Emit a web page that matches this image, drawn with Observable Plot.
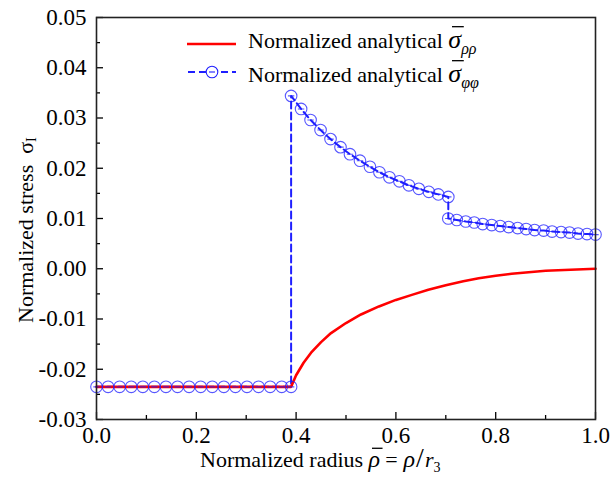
<!DOCTYPE html>
<html>
<head>
<meta charset="utf-8">
<script src="https://cdn.jsdelivr.net/npm/d3@7"></script>
<script src="https://cdn.jsdelivr.net/npm/@observablehq/plot@0.6"></script>
<style>
  html, body { margin: 0; padding: 0; background: #fff; }
  #chart { width: 610px; height: 485px; }
</style>
</head>
<body>
<div id="chart"></div>
<script>
// ---- data ----
const xTicks = [0.0, 0.2, 0.4, 0.6, 0.8, 1.0];
const xMinorTicks = [0.1, 0.3, 0.5, 0.7, 0.9];
const yTicks = [-0.03, -0.02, -0.01, 0.00, 0.01, 0.02, 0.03, 0.04, 0.05];
const yMinorTicks = [-0.025, -0.015, -0.005, 0.005, 0.015, 0.025, 0.035, 0.045];

// sigma_rho_rho (red solid)
const rhoX = [0.0, 0.39, 0.40, 0.415, 0.43, 0.45, 0.47, 0.50, 0.53, 0.566, 0.60, 0.632, 0.665, 0.70, 0.735, 0.766, 0.80, 0.832, 0.866, 0.90, 0.95, 1.0];
const rhoY = [-0.0235, -0.0235, -0.0212, -0.0187, -0.0167, -0.0146, -0.0128, -0.0108, -0.0091, -0.0075, -0.0062, -0.0052, -0.0042, -0.0033, -0.0025, -0.0019, -0.0014, -0.0010, -0.0007, -0.0004, -0.0002, 0.0000];

// sigma_phi_phi (blue dashed with open circles), three pieces
const phiX1 = [0.0, 0.0232, 0.0464, 0.0696, 0.0928, 0.116, 0.1392, 0.1624, 0.1856, 0.2088, 0.232, 0.2552, 0.2784, 0.3016, 0.3248, 0.348, 0.3712, 0.39];
const phiY1 = [-0.0235, -0.0235, -0.0235, -0.0235, -0.0235, -0.0235, -0.0235, -0.0235, -0.0235, -0.0235, -0.0235, -0.0235, -0.0235, -0.0235, -0.0235, -0.0235, -0.0235, -0.0235];
const phiX2 = [0.39, 0.41, 0.429, 0.449, 0.469, 0.489, 0.508, 0.528, 0.548, 0.567, 0.587, 0.607, 0.626, 0.646, 0.666, 0.685, 0.705];
const phiY2 = [0.0344, 0.0318, 0.0296, 0.0276, 0.0258, 0.0242, 0.0228, 0.0215, 0.0203, 0.0192, 0.0182, 0.0174, 0.0166, 0.0159, 0.0153, 0.0148, 0.0143];
const phiX3 = [0.705, 0.722, 0.740, 0.757, 0.774, 0.792, 0.809, 0.826, 0.844, 0.861, 0.878, 0.896, 0.913, 0.931, 0.948, 0.965, 0.983, 1.0];
const phiY3 = [0.0100, 0.0097, 0.0094, 0.0092, 0.0089, 0.0087, 0.0085, 0.0083, 0.0081, 0.0079, 0.0077, 0.0076, 0.0074, 0.0073, 0.0072, 0.0070, 0.0069, 0.0068];

// ---- tables ----
const rhoData = rhoX.map((x, i) => ({x, y: rhoY[i]}));
const phiXs = [...phiX1, ...phiX2, ...phiX3];
const phiYs = [...phiY1, ...phiY2, ...phiY3];
const phiData = phiXs.map((x, i) => ({x, y: phiYs[i]}));

const BLUE = "#1f1fff";
const RED = "#ff0000";
const FONT = "'Liberation Serif', 'Times New Roman', serif";

// open circle with a short bar through it (Origin-like marker)
const circleBar = {
  draw(context, size) {
    const r = Math.sqrt(size / Math.PI);
    context.moveTo(r, 0);
    context.arc(0, 0, r, 0, 2 * Math.PI);
    context.moveTo(-r * 0.55, 0);
    context.lineTo(r * 0.55, 0);
  }
};

const fmt = (d) => (Math.abs(d) < 1e-9 ? 0 : d).toFixed(2);

const chart = Plot.plot({
  width: 610,
  height: 485,
  marginLeft: 96,
  marginRight: 15,
  marginTop: 17,
  marginBottom: 66,
  style: {fontFamily: FONT, fontSize: "23px", color: "#000", background: "#fff"},
  x: {domain: [0, 1]},
  y: {domain: [-0.03, 0.05]},
  marks: [
    Plot.line(phiData, {x: "x", y: "y", stroke: BLUE, strokeWidth: 2, strokeDasharray: "7,4"}),
    Plot.line(rhoData, {x: "x", y: "y", stroke: RED, strokeWidth: 2.6}),
    Plot.dot(phiData, {x: "x", y: "y", r: 5.8, symbol: circleBar, stroke: BLUE, strokeWidth: 1.1, strokeOpacity: 0.75, fill: "none"}),
    Plot.axisX(xTicks, {tickSize: 0, tickPadding: 7, tickFormat: (d) => d.toFixed(1), label: null, fontSize: 23}),
    Plot.axisX(xTicks, {tickSize: -7, tickFormat: () => "", label: null, strokeWidth: 1.3}),
    Plot.axisX(xMinorTicks, {tickSize: -4, tickFormat: () => "", label: null, strokeWidth: 1.3}),
    Plot.axisY(yTicks, {tickSize: 0, tickPadding: 10, tickFormat: fmt, label: null, fontSize: 23}),
    Plot.axisY(yTicks, {tickSize: -7, tickFormat: () => "", label: null, strokeWidth: 1.3}),
    Plot.axisY(yMinorTicks, {tickSize: -4, tickFormat: () => "", label: null, strokeWidth: 1.3}),
    Plot.frame({stroke: "#222", strokeWidth: 1.6})
  ]
});

document.getElementById("chart").appendChild(chart);

// ---- titles and legend ----
const svg = d3.select(chart);
const over = svg.append("g").attr("font-family", FONT).attr("text-anchor", "start").attr("fill", "#000");

// draws an overbar above the first char of a tspan (for σ̄, ρ̄)
function overbar(tspan, fontSize, color, lift) {
  const node = tspan.node();
  const s = node.getStartPositionOfChar(0);
  const e = node.getEndPositionOfChar(0);
  const ctm = node.parentNode.getAttribute("transform");
  const y = s.y - fontSize * lift;
  const g = over.append("g");
  if (ctm) g.attr("transform", ctm);
  g.append("line")
    .attr("x1", s.x + fontSize * 0.14).attr("x2", e.x + fontSize * 0.1)
    .attr("y1", y).attr("y2", y)
    .attr("stroke", color).attr("stroke-width", 1.3);
}

// x title
const xt = over.append("text").attr("x", 200).attr("y", 467).attr("font-size", 22);
xt.append("tspan").text("Normalized radius ");
const rhoBar = xt.append("tspan").attr("font-style", "italic").attr("font-size", 24).text("\u03C1");
xt.append("tspan").attr("dx", 5).text("=");
xt.append("tspan").attr("dx", 6).attr("font-style", "italic").attr("font-size", 24).text("\u03C1");
xt.append("tspan").attr("dx", 1).attr("font-size", 28).text("/");
xt.append("tspan").attr("dx", 1).attr("font-style", "italic").text("r");
xt.append("tspan").attr("font-size", 14).attr("dy", 5).text("3");
overbar(rhoBar, 24, "#000", 0.78);

// y title
const yt = over.append("text").attr("transform", "translate(33,323) rotate(-90)").attr("font-size", 22);
yt.append("tspan").text("Normalized stress  \u03C3");
yt.append("tspan").attr("font-size", 14).attr("dy", 3).text("I");

// legend
over.append("line").attr("x1", 187).attr("x2", 236).attr("y1", 44).attr("y2", 44)
  .attr("stroke", RED).attr("stroke-width", 2.6);
const t1 = over.append("text").attr("x", 248).attr("y", 48).attr("font-size", 22);
t1.append("tspan").text("Normalized analytical ");
const s1 = t1.append("tspan").attr("font-style", "italic").attr("font-size", 26).text("\u03C3");
t1.append("tspan").attr("font-style", "italic").attr("font-size", 16).attr("dy", 6).text("\u03C1\u03C1");
overbar(s1, 26, "#000", 0.82);

over.append("line").attr("x1", 187).attr("x2", 236).attr("y1", 72).attr("y2", 72)
  .attr("stroke", BLUE).attr("stroke-width", 2).attr("stroke-dasharray", "7,4")
  .attr("stroke-dashoffset", -1);
over.append("circle").attr("cx", 212).attr("cy", 72).attr("r", 5.8)
  .attr("fill", "#fff").attr("stroke", BLUE).attr("stroke-width", 1.1);
over.append("line").attr("x1", 209).attr("x2", 215).attr("y1", 72).attr("y2", 72)
  .attr("stroke", BLUE).attr("stroke-width", 1.1);
const t2 = over.append("text").attr("x", 248).attr("y", 82).attr("font-size", 22);
t2.append("tspan").text("Normalized analytical ");
const s2 = t2.append("tspan").attr("font-style", "italic").attr("font-size", 26).text("\u03C3");
t2.append("tspan").attr("font-style", "italic").attr("font-size", 16).attr("dy", 6).text("\u03C6\u03C6");
overbar(s2, 26, "#000", 0.82);
</script>
</body>
</html>
